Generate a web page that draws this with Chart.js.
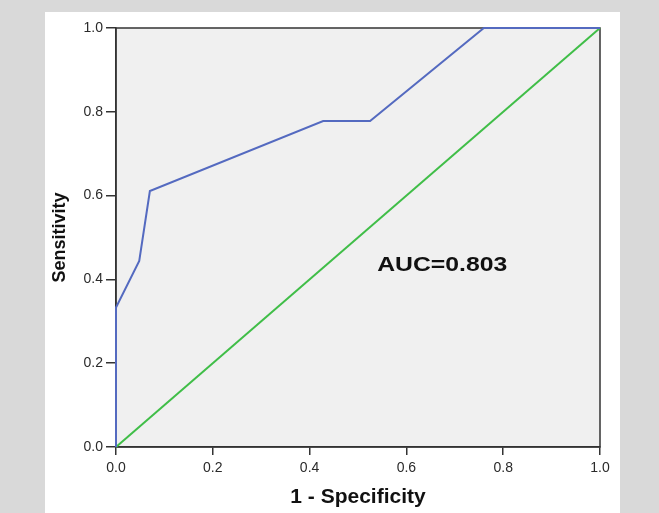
<!DOCTYPE html>
<html>
<head>
<meta charset="utf-8">
<script src="https://cdn.jsdelivr.net/npm/chart.js@4.4.1/dist/chart.umd.min.js"></script>
<style>
  html, body { margin: 0; padding: 0; background: #d9d9d9; }
  #rocChart { display: block; }
</style>
</head>
<body>
<canvas id="rocChart" width="659" height="513"></canvas>
<script>
// ROC curve points
var rocFpr = [0, 0, 0.048, 0.070, 0.428, 0.525, 0.760, 1.0];
var rocTpr = [0, 0.333, 0.444, 0.611, 0.778, 0.778, 1.0, 1.0];
// reference diagonal
var refFpr = [0, 1];
var refTpr = [0, 1];
var tickValues = [0, 0.2, 0.4, 0.6, 0.8, 1.0];
var aucText = "AUC=0.803";
var aucPos = [0.674, 0.434];

var fontFamily = "'Liberation Sans', Arial, sans-serif";

function toPoints(xs, ys) {
  var pts = [];
  for (var i = 0; i < xs.length; i++) {
    pts.push({x: xs[i], y: ys[i]});
  }
  return pts;
}

var backgroundPlugin = {
  id: 'backgroundPlugin',
  beforeDraw: function(chart) {
    var ctx = chart.ctx;
    var area = chart.chartArea;
    ctx.save();
    ctx.fillStyle = '#d9d9d9';
    ctx.fillRect(0, 0, chart.width, chart.height);
    ctx.fillStyle = '#ffffff';
    ctx.fillRect(45, 12, 575, chart.height - 12);
    ctx.fillStyle = '#f0f0f0';
    ctx.fillRect(area.left, area.top, area.right - area.left, area.bottom - area.top);
    ctx.restore();
  },
  beforeDatasetsDraw: function(chart) {
    var ctx = chart.ctx;
    var area = chart.chartArea;
    ctx.save();
    ctx.strokeStyle = '#333333';
    ctx.lineWidth = 1.5;
    ctx.strokeRect(area.left, area.top, area.right - area.left, area.bottom - area.top);
    ctx.restore();
  },
  afterDatasetsDraw: function(chart) {
    var ctx = chart.ctx;
    var x = chart.scales.x.getPixelForValue(aucPos[0]);
    var y = chart.scales.y.getPixelForValue(aucPos[1]);
    ctx.save();
    ctx.fillStyle = '#111111';
    ctx.font = 'bold 21px ' + fontFamily;
    ctx.textAlign = 'center';
    ctx.textBaseline = 'middle';
    // the source picture is a bit wider than tall, so stretch the label
    ctx.translate(x, y);
    ctx.scale(1.18, 1);
    ctx.fillText(aucText, 0, 0);
    ctx.restore();
  }
};

var canvas = document.getElementById('rocChart');
var rocChart = new Chart(canvas, {
  type: 'scatter',
  data: {
    datasets: [{
      label: 'ROC',
      data: toPoints(rocFpr, rocTpr),
      showLine: true,
      borderColor: 'rgb(84, 106, 192)',
      borderWidth: 2,
      pointRadius: 0,
      tension: 0,
      clip: false
    }, {
      label: 'Reference',
      data: toPoints(refFpr, refTpr),
      showLine: true,
      borderColor: 'rgb(64, 190, 72)',
      borderWidth: 2,
      pointRadius: 0,
      clip: false
    }]
  },
  options: {
    responsive: false,
    animation: false,
    layout: { padding: { left: 45, right: 59, top: 28, bottom: 0 } },
    plugins: {
      legend: { display: false },
      tooltip: { enabled: false }
    },
    scales: {
      x: {
        type: 'linear',
        min: 0,
        max: 1,
        afterFit: function(scale) { scale.height = 66; },
        afterBuildTicks: function(scale) {
          scale.ticks = tickValues.map(function(v) { return {value: v}; });
        },
        ticks: {
          color: '#2a2a2a',
          padding: 5,
          maxRotation: 0,
          font: { family: fontFamily, size: 14 },
          callback: function(v) { return Number(v).toFixed(1); }
        },
        grid: { drawOnChartArea: false, tickLength: 8, color: '#333333', lineWidth: 1.5 },
        border: { display: true, color: '#333333', width: 1.5 },
        title: {
          display: true,
          text: '1 - Specificity',
          color: '#111111',
          font: { family: fontFamily, size: 21, weight: 'bold' },
          padding: { top: 0, bottom: 3 }
        }
      },
      y: {
        type: 'linear',
        min: 0,
        max: 1,
        afterFit: function(scale) { scale.width = 71; },
        afterBuildTicks: function(scale) {
          scale.ticks = tickValues.map(function(v) { return {value: v}; });
        },
        ticks: {
          color: '#2a2a2a',
          padding: 3,
          font: { family: fontFamily, size: 14 },
          callback: function(v) { return Number(v).toFixed(1); }
        },
        grid: { drawOnChartArea: false, tickLength: 10, color: '#333333', lineWidth: 1.5 },
        border: { display: true, color: '#333333', width: 1.5 },
        title: {
          display: true,
          text: 'Sensitivity',
          color: '#111111',
          font: { family: fontFamily, size: 18, weight: 'bold' },
          padding: { top: 4, bottom: 0 }
        }
      }
    }
  },
  plugins: [backgroundPlugin]
});
</script>
</body>
</html>
